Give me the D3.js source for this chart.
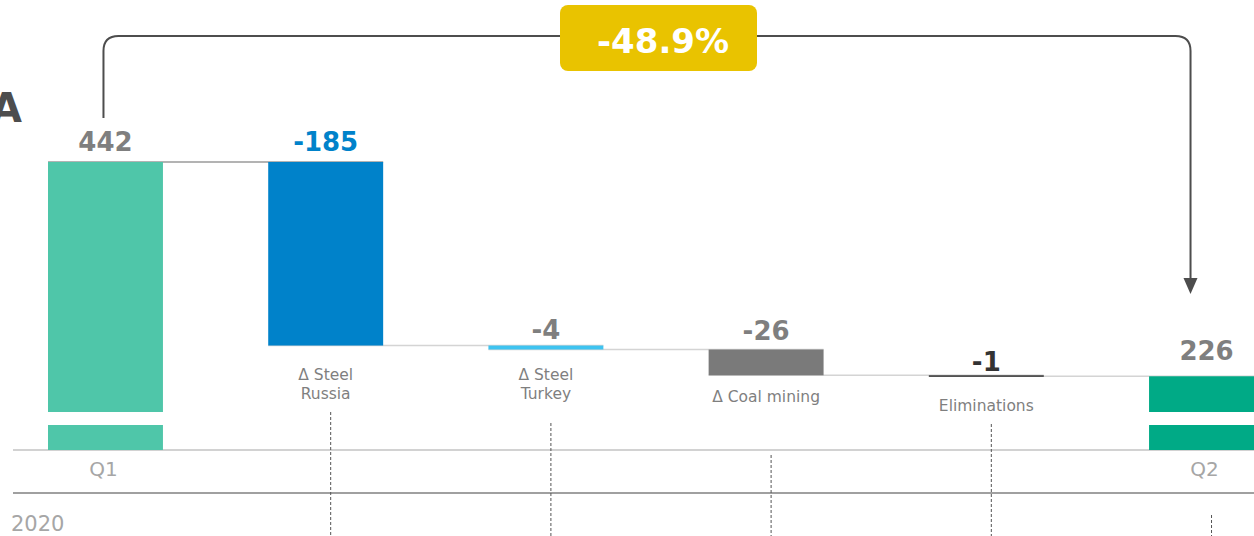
<!DOCTYPE html>
<html>
<head>
<meta charset="utf-8">
<script src="https://cdn.jsdelivr.net/npm/d3@7"></script>
<style>
  body { margin: 0; background: #fff; }
  svg { display: block; }
  .val { font-family: "DejaVu Sans", Verdana, sans-serif; font-weight: bold; font-size: 26px; text-anchor: middle; }
  .cat { font-family: "DejaVu Sans", Verdana, sans-serif; font-size: 15.5px; fill: #7f7f7f; text-anchor: middle; }
  .period { font-family: "DejaVu Sans", Verdana, sans-serif; font-size: 20px; fill: #a6a6a6; }
</style>
</head>
<body>
<script>
// data
var categories = ["Q1", "Δ Steel\nRussia", "Δ Steel\nTurkey", "Δ Coal mining", "Eliminations", "Q2"];
var values = [442, -185, -4, -26, -1, 226];
var kinds = ["total", "delta", "delta", "delta", "delta", "total"];
var barColors = ["#4fc6a9", "#0082ca", "#3ec3f0", "#7a7a7a", "#333333", "#00aa86"];
var labelColors = ["#7f7f7f", "#0082ca", "#7f7f7f", "#7f7f7f", "#333333", "#7f7f7f"];
var changeLabel = "-48.9%";
var yearLabel = "2020";
var titleText = "EBITDA";

var w = 1254, h = 536;

// layout tweaks (label gaps, separator starts)
var valueGap = [11, 11, 7, 10, 4, 16];
var catGap = [0, 34, 30, 27, 35, 0];
var sepStart = [412, 423, 455, 424, 515];

var svg = d3.select("body").append("svg")
    .attr("width", w)
    .attr("height", h);

// running totals for the waterfall
var bars = [];
var run = 0;
values.forEach(function(v, i) {
  if (kinds[i] == "total") {
    bars.push({ i: i, start: 0, end: v, v: v });
    run = v;
  } else {
    bars.push({ i: i, start: run, end: run + v, v: v });
    run = run + v;
  }
});

// scales (axis is broken: lower part of totals shown as a small stub)
var xScale = d3.scaleBand()
    .domain(categories)
    .range([48, 1264])
    .paddingInner(0.478)
    .paddingOuter(0);
var breakValue = 190;
var yScale = d3.scaleLinear()
    .domain([breakValue, 442])
    .range([412, 162]);
var axisY = 450, stubTop = 425;

function yTop(d) { return yScale(Math.max(d.start, d.end)); }
function yBot(d) { return d.start == 0 ? yScale(breakValue) : yScale(Math.min(d.start, d.end)); }
function xMid(i) { return xScale(categories[i]) + xScale.bandwidth() / 2; }

// base lines
svg.append("line")
    .attr("x1", 13).attr("x2", w).attr("y1", axisY).attr("y2", axisY)
    .attr("stroke", "#a6a6a6").attr("stroke-width", 1.2);
svg.append("line")
    .attr("x1", 13).attr("x2", w).attr("y1", 493).attr("y2", 493)
    .attr("stroke", "#808080").attr("stroke-width", 1.5);

// dashed separators
categories.slice(1).forEach(function(c, k) {
  var x = xMid(k + 1) + 5;
  svg.append("line")
      .attr("x1", x).attr("x2", x).attr("y1", sepStart[k]).attr("y2", h)
      .attr("stroke", "#555").attr("stroke-width", 1)
      .attr("stroke-dasharray", "3,2");
});

// connectors
bars.slice(0, -1).forEach(function(d, k) {
  var lvl = d.end;
  svg.append("line")
      .attr("x1", xScale(categories[k])).attr("x2", xScale(categories[k + 1]) + xScale.bandwidth())
      .attr("y1", yScale(lvl)).attr("y2", yScale(lvl))
      .attr("stroke", k == 0 ? "#9a9a9a" : "#d4d4d4").attr("stroke-width", 1.5);
});

// bars
svg.selectAll("rect.bar")
    .data(bars)
    .enter()
    .append("rect")
      .attr("class", "bar")
      .attr("x", function(d) { return xScale(categories[d.i]); })
      .attr("y", yTop)
      .attr("width", xScale.bandwidth())
      .attr("height", function(d) { return Math.max(1.5, yBot(d) - yTop(d)); })
      .attr("fill", function(d) { return barColors[d.i]; });

// stubs below the axis break
svg.selectAll("rect.stub")
    .data(bars.filter(function(d) { return d.start == 0; }))
    .enter()
    .append("rect")
      .attr("class", "stub")
      .attr("x", function(d) { return xScale(categories[d.i]); })
      .attr("y", stubTop)
      .attr("width", xScale.bandwidth())
      .attr("height", axisY - stubTop)
      .attr("fill", function(d) { return barColors[d.i]; });

// value labels
svg.selectAll("text.val")
    .data(bars)
    .enter()
    .append("text")
      .attr("class", "val")
      .attr("x", function(d) { return xMid(d.i); })
      .attr("y", function(d) { return yTop(d) - valueGap[d.i]; })
      .attr("fill", function(d) { return labelColors[d.i]; })
      .text(function(d) { return d.v; });

// category labels for the deltas
bars.filter(function(d) { return kinds[d.i] == "delta"; }).forEach(function(d) {
  var lines = categories[d.i].split("\n");
  var t = svg.append("text")
      .attr("class", "cat")
      .attr("x", xMid(d.i))
      .attr("y", yBot(d) + catGap[d.i]);
  lines.forEach(function(l, j) {
    t.append("tspan")
        .attr("x", xMid(d.i))
        .attr("dy", j == 0 ? 0 : 19)
        .text(l);
  });
});

// Q1 / Q2 below axis
bars.filter(function(d) { return kinds[d.i] == "total"; }).forEach(function(d) {
  svg.append("text")
      .attr("class", "period")
      .attr("text-anchor", "middle")
      .attr("x", xMid(d.i) - 2)
      .attr("y", 476)
      .text(categories[d.i]);
});
svg.append("text")
    .attr("class", "period")
    .style("font-size", "21px")
    .attr("x", 11)
    .attr("y", 531)
    .text(yearLabel);

// title (cropped at left edge)
svg.append("text")
    .attr("x", 22)
    .attr("y", 122)
    .attr("text-anchor", "end")
    .style("font-family", "DejaVu Sans, Verdana, sans-serif")
    .style("font-weight", "bold")
    .style("font-size", "40px")
    .attr("fill", "#4d4d4d")
    .text(titleText);

// bracket arrow from Q1 to Q2
var xa = xMid(0) - 2;
var xb = xMid(5) - 16;
var yTopLine = 36, r = 15;
svg.append("path")
    .attr("d", "M" + xa + ",118 V" + (yTopLine + r) + " Q" + xa + "," + yTopLine + " " + (xa + r) + "," + yTopLine +
               " H" + (xb - r) + " Q" + xb + "," + yTopLine + " " + xb + "," + (yTopLine + r) + " V280")
    .attr("fill", "none")
    .attr("stroke", "#4d4d4d")
    .attr("stroke-width", 2);
svg.append("path")
    .attr("d", "M" + (xb - 7) + ",278 L" + (xb + 7) + ",278 L" + xb + ",294 Z")
    .attr("fill", "#4d4d4d");

// change badge
svg.append("rect")
    .attr("x", 560).attr("y", 5)
    .attr("width", 197).attr("height", 66)
    .attr("rx", 8)
    .attr("fill", "#e9c300");
svg.append("text")
    .attr("x", 663).attr("y", 53)
    .attr("text-anchor", "middle")
    .style("font-family", "DejaVu Sans, Verdana, sans-serif")
    .style("font-weight", "bold")
    .style("font-size", "34px")
    .attr("fill", "#fff")
    .text(changeLabel);
</script>
</body>
</html>
